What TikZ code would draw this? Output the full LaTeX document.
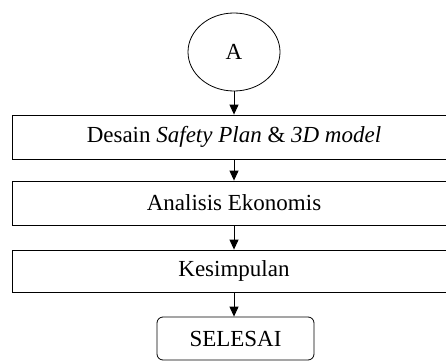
\documentclass[tikz,border=0pt]{standalone}
\usepackage{fontspec}
\setmainfont{Liberation Serif}
\usetikzlibrary{shapes.geometric,arrows.meta}
\begin{document}
\begin{tikzpicture}[x=1pt,y=1pt,
  teks/.style={font=\fontsize{23}{27}\selectfont},
  proses/.style={teks,draw,rectangle,line width=0.8pt,minimum width=444pt,minimum height=44pt,inner sep=0pt},
  konektor/.style={teks,draw,ellipse,line width=0.8pt,minimum width=92pt,minimum height=78pt,inner sep=0pt},
  terminal/.style={teks,draw,rectangle,rounded corners=6pt,line width=0.8pt,minimum width=157pt,minimum height=43pt,inner sep=0pt},
  panah/.style={-{Triangle[length=10pt,width=9pt]},line width=1pt}]
\useasboundingbox (0,0) rectangle (446,362);
\node[konektor] (a) at (234,310) {A};
\node[proses] (desain) at (234,225) {Desain \textit{Safety Plan} \& \textit{3D model}};
\node[proses] (analisis) at (234,159) {Analisis Ekonomis};
\node[proses,minimum height=42pt] (kesimpulan) at (234,91) {Kesimpulan};
\node[terminal] (selesai) at (235.5,23.5) {SELESAI};
\draw[panah] (a) -- (desain);
\draw[panah] (desain) -- (analisis);
\draw[panah] (analisis) -- (kesimpulan);
\draw[panah] (kesimpulan.south) -- (kesimpulan.south |- selesai.north);
\end{tikzpicture}
\end{document}
